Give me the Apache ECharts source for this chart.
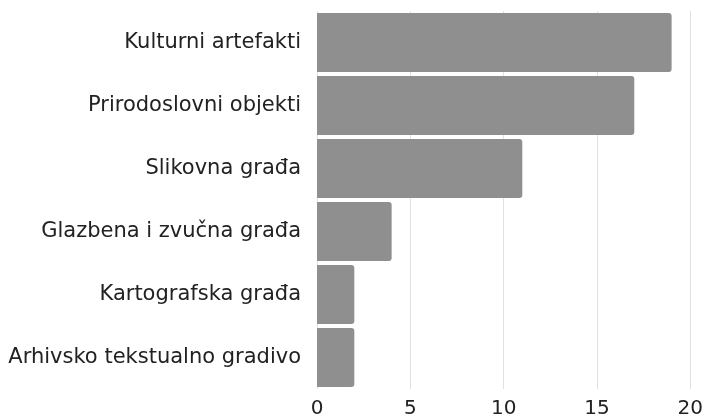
<!DOCTYPE html>
<html>
<head>
<meta charset="utf-8">
<script src="https://cdn.jsdelivr.net/npm/echarts@6/dist/echarts.min.js"></script>
<style>
html, body { margin: 0; padding: 0; background: #fff; }
#main { width: 706px; height: 420px; }
</style>
</head>
<body>
<div id="main"></div>
<script>
// kategorije i vrijednosti
var categories = ['Kulturni artefakti', 'Prirodoslovni objekti', 'Slikovna građa', 'Glazbena i zvučna građa', 'Kartografska građa', 'Arhivsko tekstualno gradivo'];
var values = [19, 17, 11, 4, 2, 2];
var xTicks = [0, 5, 10, 15, 20];

var chart = echarts.init(document.getElementById('main'));
chart.setOption({
    animation: false,
    grid: { left: 317, right: 15, top: 11, bottom: 31, containLabel: false },
    xAxis: {
        type: 'value',
        min: xTicks[0],
        max: xTicks[xTicks.length - 1],
        interval: 5,
        axisLine: { show: false },
        axisTick: { show: false },
        splitLine: { lineStyle: { color: '#e2e2e2', width: 1 } },
        axisLabel: { color: '#222', fontSize: 20, fontFamily: 'DejaVu Sans', margin: 10 }
    },
    yAxis: {
        type: 'category',
        data: categories,
        inverse: true,
        axisLine: { show: false },
        axisTick: { show: false },
        axisLabel: { color: '#222', fontSize: 21, fontFamily: 'DejaVu Sans', margin: 16 }
    },
    series: [{
        type: 'bar',
        data: values,
        barCategoryGap: '6.5%',
        itemStyle: { color: '#8f8f8f', borderRadius: [0, 3, 3, 0] }
    }]
});
</script>
</body>
</html>
